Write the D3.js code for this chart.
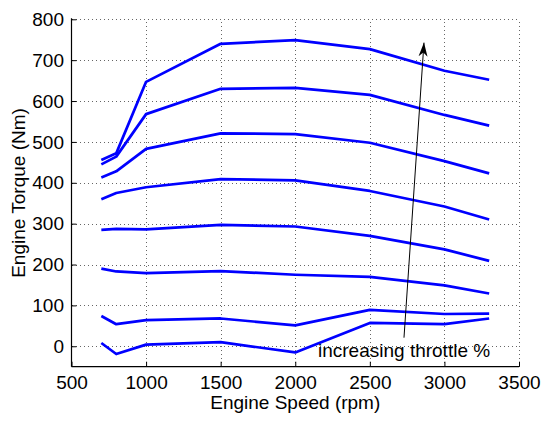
<!DOCTYPE html>
<html>
<head>
<meta charset="utf-8">
<script src="https://cdn.jsdelivr.net/npm/d3@7/dist/d3.min.js"></script>
<style>
  html, body { margin: 0; padding: 0; background: #fff; }
  svg text { font-family: "Liberation Sans", Arial, sans-serif; fill: #000; }
</style>
</head>
<body>
<svg id="chart" width="541" height="421"></svg>
<script>
// Engine speed breakpoints (rpm)
const speeds = [700, 800, 1000, 1500, 2000, 2500, 3000, 3300];

// Torque curves (Nm), one per throttle setting, highest throttle first
const torque100 = [456, 472, 647, 740, 749, 727, 674, 652];
const torque86  = [445, 464, 568, 630, 632, 615, 566, 540];
const torque71  = [413, 428, 483, 521, 519, 498, 453, 423];
const torque57  = [360, 375, 389, 409, 406, 380, 342, 310];
const torque43  = [285, 287, 286, 297, 293, 270, 237, 209];
const torque29  = [190, 183, 179, 184, 175, 170, 149, 129];
const torque14  = [74, 54, 64, 68, 51, 89, 79, 80];
const torque0   = [8, -19, 4, 10, -15, 57, 54, 68];
const curves = [torque100, torque86, torque71, torque57, torque43, torque29, torque14, torque0];

// Tick labels
const xTicks = [500, 1000, 1500, 2000, 2500, 3000, 3500];
const yTicks = [0, 100, 200, 300, 400, 500, 600, 700, 800];

// Annotation arrow: start and tip in data units
const arrowFrom = [2729, 21];
const arrowTo = [2863, 743];
const annotation = "increasing throttle %";

const FONT = 19;
const svg = d3.select("#chart");
const plotL = 71.5, plotR = 519, plotT = 19.3, plotB = 366.7;

const x = d3.scaleLinear().domain([500, 3500]).range([plotL, plotR]);
const y = d3.scaleLinear().domain([-50, 800]).range([plotB, plotT]);

// dotted grid
const grid = svg.append("g").attr("stroke", "#666").attr("stroke-width", 1)
  .attr("stroke-dasharray", "1,3").attr("shape-rendering", "crispEdges");
grid.selectAll("line.vx").data(xTicks.slice(1)).enter().append("line")
  .attr("x1", d => Math.round(x(d)) + 0.5).attr("x2", d => Math.round(x(d)) + 0.5)
  .attr("y1", plotB).attr("y2", plotT);
grid.selectAll("line.hy").data(yTicks).enter().append("line")
  .attr("x1", plotL).attr("x2", plotR)
  .attr("y1", d => Math.round(y(d)) + 0.5).attr("y2", d => Math.round(y(d)) + 0.5);

// axes
const xAxis = d3.axisBottom(x).tickValues(xTicks).tickSizeInner(-5).tickSizeOuter(0).tickPadding(9).tickFormat(d3.format("d"));
const yAxis = d3.axisLeft(y).tickValues(yTicks).tickSizeInner(-5).tickSizeOuter(0).tickPadding(7.5).tickFormat(d3.format("d"));

const gx = svg.append("g").attr("transform", `translate(0,${plotB})`).call(xAxis);
const gy = svg.append("g").attr("transform", `translate(${plotL},0)`).call(yAxis);
[gx, gy].forEach(g => {
  g.select(".domain").attr("stroke", "#000").attr("stroke-width", 1.2);
  g.selectAll(".tick line").attr("stroke", "#000");
  g.selectAll(".tick text").attr("font-size", FONT).attr("font-family", "Liberation Sans, Arial, sans-serif");
});
gx.select(".domain").attr("d", `M${plotL},0H${plotR}`);
gy.select(".domain").attr("d", `M0,${plotB}V${plotT - 1}`);

// curves
const line = d3.line().x((d, i) => x(speeds[i])).y(d => y(d));
svg.append("g").selectAll("path").data(curves).enter().append("path")
  .attr("d", line).attr("fill", "none").attr("stroke", "#0000ff")
  .attr("stroke-width", 2.7).attr("stroke-linejoin", "round");

// arrow with a narrow swept head
const defs = svg.append("defs");
defs.append("marker").attr("id", "head").attr("viewBox", "0 0 14 10")
  .attr("refX", 14).attr("refY", 5).attr("markerWidth", 14).attr("markerHeight", 10)
  .attr("markerUnits", "userSpaceOnUse").attr("orient", "auto")
  .append("path").attr("d", "M0,0.5L14,5L0,9.5L4,5Z").attr("fill", "#000");
svg.append("line")
  .attr("x1", x(arrowFrom[0])).attr("y1", y(arrowFrom[1]))
  .attr("x2", x(arrowTo[0])).attr("y2", y(arrowTo[1]))
  .attr("stroke", "#000").attr("stroke-width", 1).attr("marker-end", "url(#head)");

svg.append("text").attr("x", 318).attr("y", 357).attr("font-size", FONT).text(annotation);

// axis titles
svg.append("text").attr("x", (plotL + plotR) / 2).attr("y", 409)
  .attr("text-anchor", "middle").attr("font-size", FONT).text("Engine Speed (rpm)");
svg.append("text").attr("transform", `translate(24.5,${(plotT + plotB) / 2}) rotate(-90)`)
  .attr("text-anchor", "middle").attr("font-size", FONT).text("Engine Torque (Nm)");
</script>
</body>
</html>
